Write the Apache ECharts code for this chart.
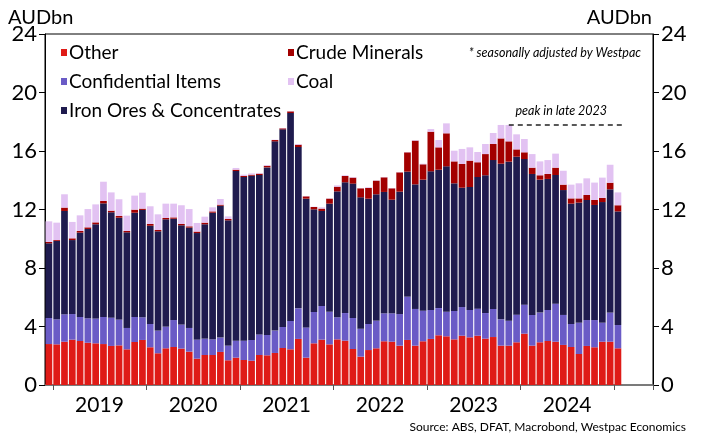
<!DOCTYPE html>
<html>
<head>
<meta charset="utf-8">
<script src="https://cdn.jsdelivr.net/npm/echarts@6/dist/echarts.min.js"></script>
<style>
  html, body { margin: 0; padding: 0; background: #fff; }
  #chart { width: 705px; height: 436px; }
</style>
</head>
<body>
<div id="chart"></div>
<script>
// Monthly resource exports, AUD bn, Dec 2018 – Jan 2025 (axis runs on to May 2025)
const startYear = 2018, startMonth = 12, monthCount = 78;
const yearLabels = ['2019', '2020', '2021', '2022', '2023', '2024'];

const other = [2.80, 2.78, 2.96, 3.10, 3.01, 2.89, 2.85, 2.80, 2.67, 2.71, 2.44, 2.94, 3.08,
  2.58, 2.17, 2.51, 2.60, 2.49, 2.28, 1.80, 2.05, 2.05, 2.26, 1.69, 1.87,
  1.71, 1.66, 2.05, 2.03, 2.19, 2.53, 2.44, 3.15, 1.87, 2.85, 3.10, 2.78,
  3.12, 3.03, 2.46, 1.94, 2.39, 2.51, 2.99, 2.96, 2.69, 3.08, 2.69, 2.99,
  3.15, 3.40, 3.33, 3.12, 3.37, 3.26, 3.37, 3.17, 3.28, 2.69, 2.69, 2.92,
  3.51, 2.69, 2.92, 3.01, 2.96, 2.74, 2.60, 2.12, 2.67, 2.58, 2.96, 2.96,
  2.51];
const confidential = [1.78, 1.71, 1.87, 1.75, 1.64, 1.67, 1.69, 1.85, 1.93, 1.76, 1.46, 1.71, 1.55,
  1.59, 1.55, 1.48, 1.84, 1.64, 1.62, 1.30, 1.12, 1.07, 0.98, 1.00, 1.16,
  1.32, 1.42, 1.41, 1.39, 1.53, 1.44, 1.94, 2.09, 2.07, 2.14, 2.30, 2.23,
  1.51, 1.89, 2.12, 1.91, 1.78, 1.89, 1.91, 1.94, 2.16, 2.96, 2.51, 2.09,
  1.98, 1.86, 1.68, 1.94, 1.96, 1.87, 1.85, 1.75, 1.92, 1.80, 1.71, 1.89,
  1.98, 2.10, 2.03, 2.12, 2.60, 2.05, 1.57, 2.14, 1.77, 1.86, 1.30, 1.99,
  1.59];
const ironOre = [5.11, 5.36, 7.07, 5.06, 5.77, 6.11, 6.45, 7.77, 7.21, 6.97, 6.54, 7.13, 7.34,
  6.72, 6.79, 7.34, 6.93, 6.79, 6.86, 7.29, 7.82, 8.66, 9.02, 8.57, 11.60,
  11.19, 11.23, 10.90, 11.46, 12.94, 13.51, 14.22, 11.03, 8.80, 7.02, 6.50, 7.39,
  8.61, 8.94, 9.19, 8.98, 8.57, 8.64, 8.30, 7.77, 8.37, 8.55, 8.52, 8.96,
  9.48, 9.46, 9.94, 8.73, 8.16, 8.41, 9.00, 9.42, 10.18, 10.64, 10.87, 10.80,
  9.96, 9.64, 9.09, 8.96, 8.80, 8.54, 8.23, 8.21, 8.21, 7.87, 8.25, 8.43,
  7.77];
const crudeMinerals = [0.09, 0.06, 0.23, 0.12, 0.11, 0.11, 0.13, 0.16, 0.11, 0.12, 0.09, 0.21, 0.09,
  0.12, 0.09, 0.09, 0.09, 0.09, 0.09, 0.10, 0.11, 0.09, 0.07, 0.09, 0.09,
  0.07, 0.07, 0.09, 0.11, 0.09, 0.07, 0.11, 0.16, 0.16, 0.16, 0.16, 0.34,
  0.32, 0.43, 0.41, 0.62, 0.73, 0.93, 1.00, 0.78, 1.32, 1.32, 2.99, 1.05,
  2.71, 1.53, 2.26, 1.50, 1.62, 1.80, 1.01, 1.45, 1.10, 1.73, 1.39, 0.50,
  0.46, 0.43, 0.30, 0.34, 0.50, 0.37, 0.36, 0.29, 0.34, 0.34, 0.28, 0.45,
  0.42];
const coal = [1.41, 1.19, 0.91, 1.12, 1.07, 1.25, 1.23, 1.32, 1.25, 1.14, 1.05, 0.96, 1.09,
  1.21, 1.07, 0.98, 0.94, 1.28, 1.18, 0.59, 0.41, 0.28, 0.39, 0.18, 0.12,
  0.09, 0.09, 0.05, 0.05, 0.02, 0.02, 0.02, 0.05, 0.02, 0.02, 0.09, 0.02,
  0.09, 0.05, 0.04, 0.02, 0.05, 0.02, 0.02, 0.02, 0.02, 0.02, 0.04, 0.04,
  0.18, 0.50, 0.68, 0.73, 1.03, 0.91, 0.70, 0.69, 0.75, 0.92, 1.12, 1.03,
  0.91, 0.93, 0.95, 0.95, 0.96, 0.95, 0.94, 1.03, 1.14, 1.19, 1.39, 1.23,
  0.88];

const colors = {
  other: '#df1b17',
  crude: '#a30000',
  confidential: '#6a5bc6',
  coal: '#e2c2f2',
  iron: '#1f1b4e'
};
const FONT = 'Lato';

// month keys "YYYY-MM"
const months = [];
for (let i = 0; i < monthCount; i++) {
  const m0 = startMonth - 1 + i;
  const y = startYear + Math.floor(m0 / 12);
  const m = (m0 % 12) + 1;
  months.push(y + '-' + String(m).padStart(2, '0'));
}

// level of the late-2023 peak in the total
const totals = other.map((v, i) => v + confidential[i] + ironOre[i] + crudeMinerals[i] + coal[i]);
let peakIdx = 0, peakVal = -Infinity;
totals.forEach((t, i) => {
  if (months[i] >= '2023-07' && months[i] <= '2023-12' && t > peakVal) { peakVal = t; peakIdx = i; }
});
const peakLevel = Math.round(peakVal * 100) / 100;

const chart = echarts.init(document.getElementById('chart'), null, { renderer: 'canvas' });

function barSeries(name, data, color, extra) {
  return Object.assign({
    name: name,
    type: 'bar',
    stack: 'total',
    data: data,
    barCategoryGap: '14%',
    itemStyle: { color: color },
    emphasis: { disabled: true },
    animation: false
  }, extra || {});
}

const yAxisCommon = {
  type: 'value',
  min: 0,
  max: 24,
  interval: 4,
  splitLine: { show: false },
  axisLine: { show: true, lineStyle: { color: '#000', width: 1 } },
  axisTick: { show: true, inside: false, length: 6, lineStyle: { color: '#000' } },
  axisLabel: { fontFamily: FONT, fontSize: 22, color: '#000', margin: 8 }
};

const legendCommon = {
  orient: 'vertical', top: 38, itemGap: 10,
  icon: 'rect', itemWidth: 6, itemHeight: 7,
  selectedMode: false,
  textStyle: { fontFamily: FONT, fontSize: 19, color: '#000', padding: [0, 0, 0, -3] }
};

chart.setOption({
  backgroundColor: '#fff',
  animation: false,
  textStyle: { fontFamily: FONT },
  grid: {
    left: 45, right: 52, top: 34, bottom: 51,
    show: true, borderColor: '#000', borderWidth: 1
  },
  legend: [
    Object.assign({}, legendCommon, {
      data: ['Other', 'Confidential Items', 'Iron Ores & Concentrates'], left: 56
    }),
    Object.assign({}, legendCommon, {
      data: ['Crude Minerals', 'Coal'], left: 283
    })
  ],
  xAxis: {
    type: 'category',
    data: months,
    boundaryGap: true,
    axisLine: { show: true, lineStyle: { color: '#7a7a7a', width: 1.5 } },
    axisTick: {
      show: true, length: 5, lineStyle: { color: '#555' },
      interval: (i) => months[i].endsWith('-01')
    },
    axisLabel: {
      fontFamily: FONT, fontSize: 21, color: '#000', margin: 10,
      interval: (i, v) => v.endsWith('-07') && yearLabels.includes(v.slice(0, 4)),
      formatter: (v) => v.slice(0, 4),
      padding: [0, 8, 0, 0]
    },
    splitLine: { show: false }
  },
  yAxis: [
    Object.assign({}, yAxisCommon, { position: 'left' }),
    Object.assign({}, yAxisCommon, { position: 'right' })
  ],
  series: [
    barSeries('Other', other, colors.other),
    barSeries('Confidential Items', confidential, colors.confidential),
    barSeries('Iron Ores & Concentrates', ironOre, colors.iron),
    barSeries('Crude Minerals', crudeMinerals, colors.crude),
    barSeries('Coal', coal, colors.coal, {
      markLine: {
        silent: true,
        symbol: 'none',
        animation: false,
        lineStyle: { color: '#222', type: [5, 4], width: 1.5 },
        label: {
          show: true, position: 'middle', distance: 7,
          formatter: 'peak in late 2023',
          fontFamily: FONT, fontStyle: 'italic', fontSize: 12.5, color: '#000',
          padding: [0, 12, 0, 0]
        },
        data: [[
          { xAxis: months[peakIdx + 1], yAxis: peakLevel },
          { xAxis: '2025-02', yAxis: peakLevel }
        ]]
      }
    })
  ],
  graphic: [
    { type: 'text', left: 8, top: 8, style: { text: 'AUDbn', font: '20px ' + FONT, fill: '#000' } },
    { type: 'text', right: 53, top: 8, style: { text: 'AUDbn', font: '20px ' + FONT, fill: '#000' } },
    { type: 'text', right: 64, top: 46, style: { text: '* seasonally adjusted by Westpac', font: 'italic 12.5px ' + FONT, fill: '#000' } },
    { type: 'text', right: 19, top: 421, style: { text: 'Source: ABS, DFAT, Macrobond, Westpac Economics', font: '12px ' + FONT, fill: '#000' } }
  ]
});
</script>
</body>
</html>
